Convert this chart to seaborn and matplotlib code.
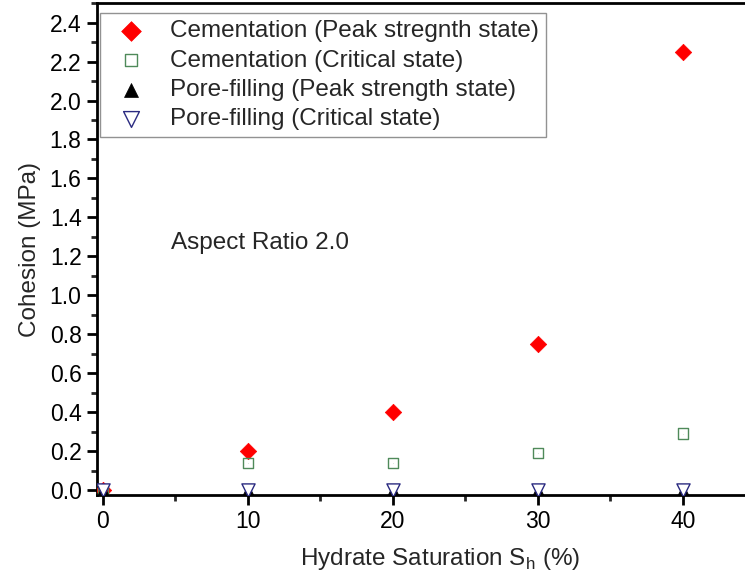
import numpy as np
import pandas as pd
import seaborn as sns
import matplotlib.pyplot as plt
from matplotlib.ticker import MultipleLocator

sh = [0, 10, 20, 30, 40]
cem_peak = [0.0, 0.20, 0.40, 0.75, 2.25]
cem_crit = [0.0, 0.14, 0.14, 0.19, 0.29]
pf_peak = [0.0, 0.0, 0.0, 0.0, 0.0]
pf_crit = [0.0, 0.0, 0.0, 0.0, 0.0]

labels = [
    "Cementation (Peak stregnth state)",
    "Cementation (Critical state)",
    "Pore-filling (Peak strength state)",
    "Pore-filling (Critical state)",
]

sns.set_style("ticks")
plt.rcParams["font.family"] = ["Liberation Sans", "DejaVu Sans"]

fig = plt.figure(figsize=(7.45, 5.8), dpi=100)
ax = fig.add_axes([0.130, 0.1466, 0.921, 0.848])

sns.scatterplot(x=sh, y=cem_peak, ax=ax, marker="D", s=70, color="#ff0000",
                edgecolor="#ff0000", linewidth=0.5, label=labels[0], zorder=3)
sns.scatterplot(x=sh, y=cem_crit, ax=ax, marker="s", s=55, facecolor="none",
                edgecolor="#4f8a5a", linewidth=1.0, label=labels[1], zorder=3)
sns.scatterplot(x=sh, y=cem_crit, ax=ax, marker=".", s=2, color="#4f8a5a",
                linewidth=0, zorder=3)
sns.scatterplot(x=sh, y=pf_peak, ax=ax, marker="^", s=70, color="black",
                edgecolor="black", linewidth=0.5, label=labels[2], zorder=3)
sns.scatterplot(x=sh, y=pf_crit, ax=ax, marker="v", s=90, facecolor="white",
                edgecolor="#2a2a80", linewidth=1.0, label=labels[3], zorder=4)

ax.set_xlim(-0.4, 46.9)
ax.set_ylim(-0.025, 2.5)
ax.xaxis.set_major_locator(MultipleLocator(10))
ax.xaxis.set_minor_locator(MultipleLocator(5))
ax.yaxis.set_major_locator(MultipleLocator(0.2))
ax.yaxis.set_minor_locator(MultipleLocator(0.1))
ax.yaxis.set_major_formatter(plt.FormatStrFormatter("%.1f"))

for side in ["left", "bottom", "top", "right"]:
    ax.spines[side].set_linewidth(2.0)
    ax.spines[side].set_color("black")
ax.tick_params(which="major", direction="out", length=7, width=2, labelsize=16.5,
               colors="black", pad=4)
ax.tick_params(which="minor", direction="out", length=4, width=2)

ax.set_xlabel("Hydrate Saturation S$_\\mathregular{h}$ (%)", fontsize=17.5, labelpad=9)
ax.set_ylabel("Cohesion (MPa)", fontsize=17.5, labelpad=6)

ax.text(4.7, 1.27, "Aspect Ratio 2.0", fontsize=17.5, va="center", ha="left")

leg = ax.legend(loc="upper left", bbox_to_anchor=(0.004, 0.98), borderaxespad=0,
                fontsize=17.5, frameon=True, fancybox=False, handletextpad=0.6,
                labelspacing=0.3, borderpad=0.3, handlelength=2.0, markerscale=1.2)
leg.get_frame().set_edgecolor("#777777")
leg.get_frame().set_linewidth(1.0)

fig.savefig("out.png", dpi=100)
